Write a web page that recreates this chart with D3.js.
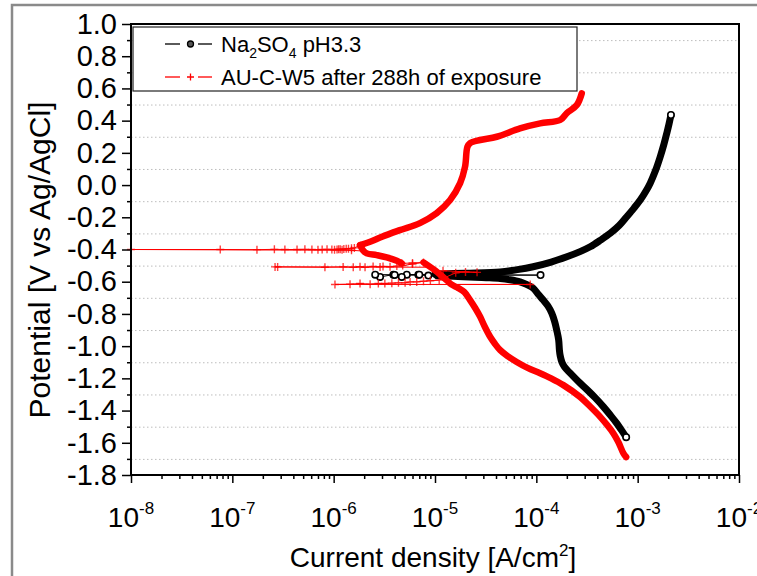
<!DOCTYPE html>
<html>
<head>
<meta charset="utf-8">
<script src="https://cdnjs.cloudflare.com/ajax/libs/d3/7.8.5/d3.min.js"></script>
<style>
body { margin: 0; background: #fff; }
svg text { font-family: "Liberation Sans", Arial, sans-serif; fill: #000; }
</style>
</head>
<body>
<div id="chart"></div>
<script>
// axis ticks
var xMajor = [1e-8, 1e-7, 1e-6, 1e-5, 1e-4, 1e-3, 1e-2];
var yMajor = [-1.8, -1.6, -1.4, -1.2, -1.0, -0.8, -0.6, -0.4, -0.2, 0.0, 0.2, 0.4, 0.6, 0.8, 1.0];
var yMinor = [-1.7, -1.5, -1.3, -1.1, -0.9, -0.7, -0.5, -0.3, -0.1, 0.1, 0.3, 0.5, 0.7, 0.9];

// Na2SO4 pH3.3  [current A/cm2, potential V]
var naCathodic = [
  [7.7e-4, -1.565], [6.9e-4, -1.52], [6.2e-4, -1.478], [5.4e-4, -1.43], [4.6e-4, -1.377],
  [3.8e-4, -1.32], [3.2e-4, -1.273], [2.6e-4, -1.22], [2.16e-4, -1.168], [1.9e-4, -1.13],
  [1.79e-4, -1.100], [1.72e-4, -1.06], [1.69e-4, -1.025], [1.66e-4, -0.96], [1.59e-4, -0.901],
  [1.52e-4, -0.85], [1.42e-4, -0.795], [1.3e-4, -0.75], [1.17e-4, -0.714], [1.05e-4, -0.68],
  [9.3e-5, -0.640], [8.0e-5, -0.617], [6.9e-5, -0.601], [5.5e-5, -0.588], [4.4e-5, -0.580],
  [3.2e-5, -0.575], [2.5e-5, -0.572], [1.5e-5, -0.566], [1.05e-5, -0.563]
];
var naNoise = [
  [1.05e-5, -0.563], [8.6e-6, -0.562], [6.85e-6, -0.556], [5.27e-6, -0.556], [4.7e-6, -0.570],
  [3.88e-6, -0.556], [2.87e-6, -0.570], [2.57e-6, -0.556], [1.1e-4, -0.559], [4.0e-6, -0.558],
  [7.0e-6, -0.556], [1.0e-5, -0.553]
];
var naAnodic = [
  [1.0e-5, -0.553], [2.0e-5, -0.547], [4.4e-5, -0.539], [6.5e-5, -0.525], [9.3e-5, -0.507],
  [1.4e-4, -0.478], [2.0e-4, -0.445], [2.7e-4, -0.413], [3.4e-4, -0.383], [4.3e-4, -0.342],
  [5.4e-4, -0.298], [6.6e-4, -0.250], [7.8e-4, -0.197], [9.2e-4, -0.143], [1.06e-3, -0.093],
  [1.2e-3, -0.040], [1.33e-3, 0.012], [1.5e-3, 0.090], [1.67e-3, 0.176], [1.81e-3, 0.250],
  [1.94e-3, 0.323], [2.04e-3, 0.380], [2.13e-3, 0.435]
];

// AU-C-W5 after 288h of exposure
var auCathodic = [
  [7.7e-4, -1.688], [7.24e-4, -1.666], [6.5e-4, -1.600], [5.77e-4, -1.542], [5.0e-4, -1.490],
  [4.27e-4, -1.439], [3.4e-4, -1.375], [2.7e-4, -1.315], [1.85e-4, -1.242], [1.4e-4, -1.200],
  [1.09e-4, -1.168], [8.2e-5, -1.135], [6.4e-5, -1.098], [5.2e-5, -1.062], [4.4e-5, -1.025],
  [3.9e-5, -0.985], [3.5e-5, -0.942], [3.1e-5, -0.880], [2.79e-5, -0.818], [2.5e-5, -0.765],
  [2.22e-5, -0.714], [1.95e-5, -0.665], [1.7e-5, -0.640], [1.45e-5, -0.617], [1.3e-5, -0.590],
  [1.0e-5, -0.530], [7.7e-6, -0.480]
];
var auNoise1 = [
  [1.45e-5, -0.617], [8.7e-5, -0.617], [1.03e-6, -0.617], [1.45e-6, -0.615], [1.82e-6, -0.611],
  [2.29e-6, -0.615], [2.76e-6, -0.611], [3.2e-6, -0.611], [3.75e-6, -0.609], [4.36e-6, -0.607],
  [5.07e-6, -0.607], [5.68e-6, -0.601], [6.6e-6, -0.601], [7.7e-6, -0.597], [9.0e-6, -0.594],
  [1.1e-5, -0.590], [1.6e-5, -0.545], [2.0e-5, -0.540], [2.6e-5, -0.542], [1.2e-5, -0.532]
];
var auNoise2 = [
  [9.0e-6, -0.510], [2.64e-7, -0.508], [2.8e-7, -0.508], [8.2e-7, -0.510], [1.24e-6, -0.508],
  [1.56e-6, -0.510], [1.82e-6, -0.507], [2.04e-6, -0.510], [2.45e-6, -0.506], [2.87e-6, -0.508],
  [3.07e-6, -0.505], [3.6e-6, -0.507], [4.2e-6, -0.503], [4.8e-6, -0.500], [6.0e-6, -0.490],
  [7.7e-6, -0.480], [6.0e-6, -0.484], [4.7e-6, -0.486]
];
var auLoop = [
  [4.7e-6, -0.486], [4.2e-6, -0.470], [3.34e-6, -0.449], [2.66e-6, -0.435], [2.12e-6, -0.424],
  [1.95e-6, -0.405], [1.82e-6, -0.373]
];
var auNoise3 = [
  [2.0e-6, -0.410], [1.5e-6, -0.405], [1.0e-8, -0.400], [7.6e-8, -0.400], [1.75e-7, -0.401],
  [2.6e-7, -0.399], [3.3e-7, -0.400], [4.35e-7, -0.400], [5.2e-7, -0.399], [6.1e-7, -0.400],
  [7.0e-7, -0.401], [7.7e-7, -0.400], [8.6e-7, -0.399], [9.6e-7, -0.400], [1.02e-6, -0.402],
  [1.08e-6, -0.400], [1.12e-6, -0.398], [1.16e-6, -0.398], [1.21e-6, -0.402], [1.26e-6, -0.397],
  [1.33e-6, -0.396], [1.4e-6, -0.395], [1.5e-6, -0.393], [1.6e-6, -0.390], [1.82e-6, -0.373]
];
var auAnodic = [
  [1.82e-6, -0.373], [2.29e-6, -0.352], [3.0e-6, -0.321], [4.5e-6, -0.280], [7.1e-6, -0.236],
  [1.04e-5, -0.174], [1.41e-5, -0.093], [1.77e-5, 0.012], [1.98e-5, 0.114], [2.09e-5, 0.238],
  [2.22e-5, 0.261], [2.79e-5, 0.280], [4.07e-5, 0.300], [6.9e-5, 0.352], [1.09e-4, 0.383],
  [1.72e-4, 0.404], [2.0e-4, 0.447], [2.51e-4, 0.497], [2.81e-4, 0.570]
];

var width = 757, height = 576;
var plotLeft = 131, plotRight = 739, plotTop = 24, plotBottom = 475;

var x = d3.scaleLog().domain([1e-8, 1e-2]).range([plotLeft, plotRight]);
var y = d3.scaleLinear().domain([-1.8, 1.0]).range([plotBottom, plotTop]);

var svg = d3.select("#chart").append("svg")
    .attr("width", width)
    .attr("height", height);

// gray page frame
svg.append("path")
    .attr("d", "M12," + height + " V5 H" + width)
    .attr("fill", "none")
    .attr("stroke", "#8a8a8a")
    .attr("stroke-width", 2.5);

// dotted grid
svg.append("g").selectAll("line")
    .data(yMinor)
  .enter().append("line")
    .attr("x1", plotLeft).attr("x2", plotRight)
    .attr("y1", function (d) { return y(d) + 0.5; })
    .attr("y2", function (d) { return y(d) + 0.5; })
    .attr("stroke", "#bdbdbd")
    .attr("stroke-width", 1)
    .attr("stroke-dasharray", "1.5,2.5");

var line = d3.line()
    .x(function (d) { return x(d[0]); })
    .y(function (d) { return y(d[1]); });
var smooth = d3.line()
    .x(function (d) { return x(d[0]); })
    .y(function (d) { return y(d[1]); })
    .curve(d3.curveCatmullRom.alpha(0.5));

function thin(data, color) {
  svg.append("path").datum(data)
      .attr("d", line)
      .attr("fill", "none")
      .attr("stroke", color)
      .attr("stroke-width", 1);
}

function band(data, color, w) {
  svg.append("path").datum(data)
      .attr("d", smooth)
      .attr("fill", "none")
      .attr("stroke", color)
      .attr("stroke-width", w)
      .attr("stroke-linecap", "round")
      .attr("stroke-linejoin", "round");
}

function circles(data) {
  svg.append("g").selectAll("circle")
      .data(data)
    .enter().append("circle")
      .attr("cx", function (d) { return x(d[0]); })
      .attr("cy", function (d) { return y(d[1]); })
      .attr("r", 3.2)
      .attr("fill", "#fff")
      .attr("stroke", "#000")
      .attr("stroke-width", 1.6);
}

function crosses(data) {
  svg.append("g").selectAll("path")
      .data(data)
    .enter().append("path")
      .attr("transform", function (d) { return "translate(" + x(d[0]) + "," + y(d[1]) + ")"; })
      .attr("d", "M-4,0H4M0,-4V4")
      .attr("stroke", "#ff0000")
      .attr("stroke-opacity", 0.75)
      .attr("stroke-width", 1.4);
}

// black series
thin(naNoise, "#000");
band(naCathodic, "#000", 7);
band(naAnodic, "#000", 7);
circles(naNoise.slice(1, -1));
circles([naCathodic[0], naAnodic[naAnodic.length - 1]]);

// red series
thin(auNoise1, "#ff0000");
thin(auNoise2, "#ff0000");
thin(auNoise3, "#ff0000");
band(auCathodic, "#ff0000", 6.5);
band(auLoop, "#ff0000", 6.5);
band(auAnodic, "#ff0000", 6.5);
crosses(auNoise1.slice(1));
crosses(auNoise2.slice(1));
crosses(auNoise3.slice(1, -1));

// frame
svg.append("rect")
    .attr("x", plotLeft).attr("y", plotTop)
    .attr("width", plotRight - plotLeft).attr("height", plotBottom - plotTop)
    .attr("fill", "none")
    .attr("stroke", "#000")
    .attr("stroke-width", 2);

// x axis
var xMinor = [];
xMajor.slice(0, -1).forEach(function (d) {
  for (var k = 2; k < 10; k++) xMinor.push(d * k);
});

var gx = svg.append("g").attr("transform", "translate(0," + plotBottom + ")");
gx.call(d3.axisBottom(x).tickValues(xMajor).tickSize(8).tickSizeOuter(0).tickFormat(""));
gx.append("g").call(d3.axisBottom(x).tickValues(xMinor).tickSize(4).tickSizeOuter(0).tickFormat(""));
gx.selectAll(".domain").remove();
gx.selectAll("line").attr("stroke", "#000").attr("stroke-width", 1.5);

var xl = svg.append("g").selectAll("text")
    .data(xMajor)
  .enter().append("text")
    .attr("x", function (d) { return x(d); })
    .attr("y", 527)
    .attr("text-anchor", "middle")
    .style("font-size", "28px");
xl.append("tspan").text("10");
xl.append("tspan")
    .attr("dy", -13)
    .style("font-size", "17px")
    .text(function (d) { return String(Math.round(Math.log10(d))); });

// y axis
var gy = svg.append("g").attr("transform", "translate(" + plotLeft + ",0)");
gy.call(d3.axisLeft(y).tickValues(yMajor).tickSize(9).tickSizeOuter(0).tickPadding(5)
    .tickFormat(function (d) { return d.toFixed(1); }));
gy.append("g").call(d3.axisLeft(y).tickValues(yMinor).tickSize(4).tickSizeOuter(0).tickFormat(""));
gy.selectAll(".domain").remove();
gy.selectAll("line").attr("stroke", "#000").attr("stroke-width", 1.5);
gy.selectAll("text")
    .style("font-size", "29px")
    .style("font-family", "'Liberation Sans', Arial, sans-serif")
    .attr("fill", "#000");

// axis titles
var xt = svg.append("text")
    .attr("x", 433)
    .attr("y", 567)
    .attr("text-anchor", "middle")
    .style("font-size", "28px");
xt.append("tspan").text("Current density [A/cm");
xt.append("tspan").attr("dy", -11).style("font-size", "17px").text("2");
xt.append("tspan").attr("dy", 11).text("]");

svg.append("text")
    .attr("transform", "translate(50,260) rotate(-90)")
    .attr("text-anchor", "middle")
    .style("font-size", "30px")
    .text("Potential [V vs Ag/AgCl]");

// legend
var lg = svg.append("g");
lg.append("rect")
    .attr("x", 133).attr("y", 27)
    .attr("width", 444).attr("height", 64)
    .attr("fill", "#fff")
    .attr("stroke", "#222")
    .attr("stroke-width", 1.2);

var legendRows = [
  {color: "#000", cy: 44},
  {color: "#ff0000", cy: 77}
];
legendRows.forEach(function (r, i) {
  lg.append("line").attr("x1", 165).attr("x2", 180).attr("y1", r.cy).attr("y2", r.cy)
      .attr("stroke", r.color).attr("stroke-width", 1.3);
  lg.append("line").attr("x1", 198).attr("x2", 212).attr("y1", r.cy).attr("y2", r.cy)
      .attr("stroke", r.color).attr("stroke-width", 1.3);
  if (i == 0) {
    lg.append("circle").attr("cx", 190.5).attr("cy", r.cy).attr("r", 3)
        .attr("fill", "#555").attr("stroke", "#000").attr("stroke-width", 1.3);
  } else {
    lg.append("path").attr("transform", "translate(190.5," + r.cy + ")")
        .attr("d", "M-3.5,0H3.5M0,-3.5V3.5")
        .attr("stroke", "#ff0000").attr("stroke-width", 1.3);
  }
});

var t1 = lg.append("text").attr("x", 221).attr("y", 52).style("font-size", "22px");
t1.append("tspan").text("Na");
t1.append("tspan").attr("dy", 6).style("font-size", "14px").text("2");
t1.append("tspan").attr("dy", -6).text("SO");
t1.append("tspan").attr("dy", 6).style("font-size", "14px").text("4");
t1.append("tspan").attr("dy", -6).text(" pH3.3");

lg.append("text").attr("x", 221).attr("y", 85).style("font-size", "22px")
    .text("AU-C-W5 after 288h of exposure");
</script>
</body>
</html>
